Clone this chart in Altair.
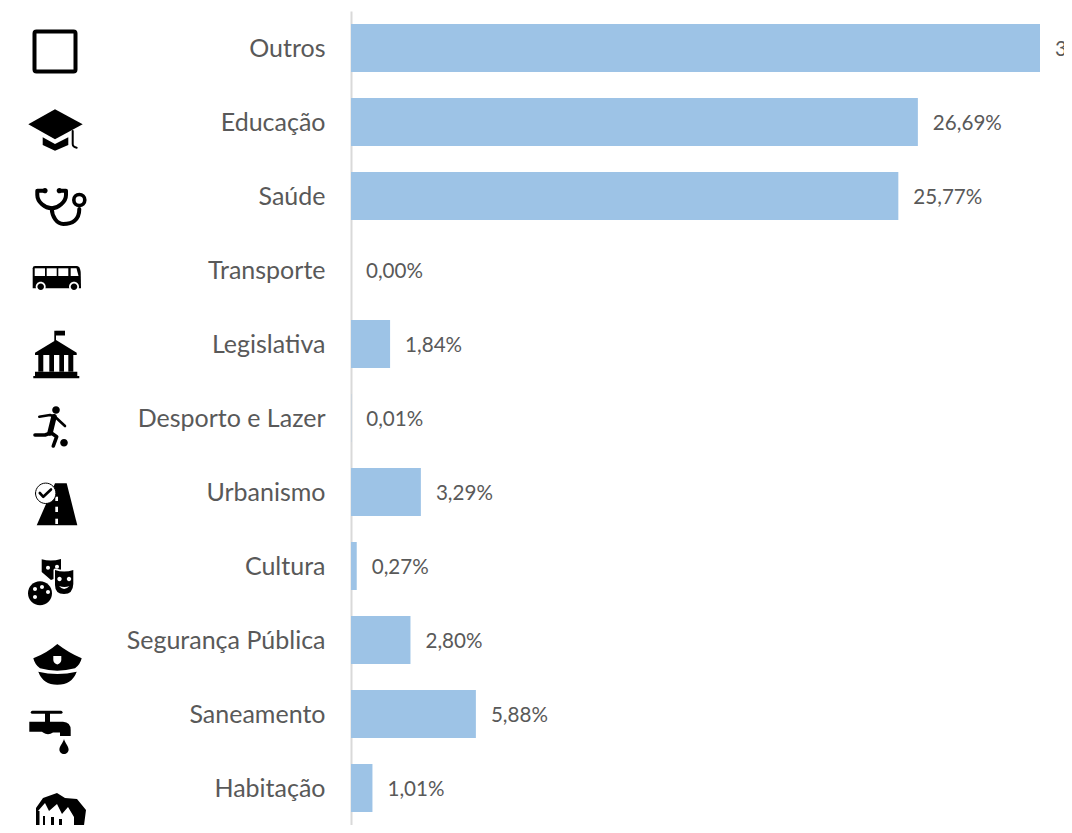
import altair as alt
import pandas as pd

categories = ["Outros", "Educação", "Saúde", "Transporte", "Legislativa", "Desporto e Lazer",
              "Urbanismo", "Cultura", "Segurança Pública", "Saneamento", "Habitação"]
values = [32.44, 26.69, 25.77, 0.00, 1.84, 0.01, 3.29, 0.27, 2.80, 5.88, 1.01]
labels = ["32,44%", "26,69%", "25,77%", "0,00%", "1,84%", "0,01%", "3,29%", "0,27%", "2,80%", "5,88%", "1,01%"]

BLACK, WHITE = "#000000", "#ffffff"
TEXT = "#595959"
FONT = "Lato"


def circle(cx, cy, r):
    return f"M{cx-r},{cy}A{r},{r} 0 1,0 {cx+r},{cy}A{r},{r} 0 1,0 {cx-r},{cy}Z"


def rect(x0, y0, x1, y1):
    return f"M{x0},{y0}H{x1}V{y1}H{x0}Z"


# Icon drawings: (category, x offset, y offset from row centre, parts)
# part = (path, colour, stroke width or 0 for filled)
icons = [
    ("Outros", 0, 3.5, [
        ("M-18.5,-20H18.5Q20.5,-20 20.5,-18V18Q20.5,20 18.5,20H-18.5Q-20.5,20 -20.5,18V-18Q-20.5,-20 -18.5,-20Z", BLACK, 4),
    ]),
    ("Educação", 0, 8, [
        ("M-26.7,-5.7L0,-20.7L27.7,-5.7L0,9.3Z", BLACK, 0),
        ("M-12.3,7.3L0,14L13.3,7.3V15L0,20.7L-12.3,15Z", BLACK, 0),
        ("M17.7,1V14Q17.7,17 21.7,17.7", BLACK, 2),
    ]),
    ("Saúde", 0, 11, [
        ("M-10,-16.3H-17.7V-12C-17.7,-5 -10,1.3 -3.3,1.3C3,1.3 11,-5 11,-12V-16.3H4.3", BLACK, 4),
        ("M-3.3,1.3C-3,10 2,17 8.3,17C17,17 24.3,13 24.3,2", BLACK, 4),
        (circle(24.3, -7, 5.5), BLACK, 3.6),
        (circle(-10, -16.3, 2.6), BLACK, 0),
        (circle(4.3, -16.3, 2.6), BLACK, 0),
    ]),
    ("Transporte", 0, 8, [
        ("M-20,-12H22Q25,-12 25.7,-6L26,10.3H-22.3V-9.7Q-22.3,-12 -20,-12Z", BLACK, 0),
        (rect(-20.3, -9.7, -10, -2), WHITE, 0),
        (rect(-8.3, -9.7, 1.7, -2), WHITE, 0),
        (rect(3.3, -9.7, 13.3, -2), WHITE, 0),
        ("M15.7,-9.7H21.5L23.5,-2H15.7Z", WHITE, 0),
        (circle(-14.3, 8.7, 5), WHITE, 0),
        (circle(19, 8.7, 5), WHITE, 0),
        (circle(-14.3, 8.7, 3.3), BLACK, 0),
        (circle(19, 8.7, 3.3), BLACK, 0),
    ]),
    ("Legislativa", 0, 11, [
        ("M-20,0V-2.3L1,-15L21.7,-2.3V0Z", BLACK, 0),
        (rect(-16.7, 0, -11.7, 16.7), BLACK, 0),
        (rect(-5.7, 0, -1, 16.7), BLACK, 0),
        (rect(4.3, 0, 9, 16.7), BLACK, 0),
        (rect(13.3, 0, 18.3, 16.7), BLACK, 0),
        (rect(-20, 16.7, 22.3, 21), BLACK, 0),
        (rect(-21.7, 21, 24.3, 23.3), BLACK, 0),
        (rect(-0.7, -24.3, 1, -14), BLACK, 0),
        (rect(1, -24.3, 10, -19.5), BLACK, 0),
    ]),
    ("Desporto e Lazer", 0, 9, [
        (circle(1, -17, 3.8), BLACK, 0),
        (circle(9, 15.7, 3.8), BLACK, 0),
        ("M-15.7,-10.3L-5,-12L0,-10.3L10,-1", BLACK, 2.6),
        ("M-1,-10.3L-5,6", BLACK, 5.5),
        ("M-5,6.3L-10,8H-20", BLACK, 3.6),
        ("M-5,5L1.7,9.7L-1.7,19", BLACK, 3.6),
    ]),
    ("Urbanismo", 0, 12, [
        ("M-18.3,21.3L0,-20.7H11.7L22.3,21.3Z", BLACK, 0),
        (rect(0.3, 2.7, 3, 8), WHITE, 0),
        (rect(0.3, 14.7, 3, 20), WHITE, 0),
        (rect(0.3, -7.3, 3, -3), WHITE, 0),
        (circle(-9.3, -10.7, 10.2), WHITE, 0),
        (circle(-9.3, -10.7, 10.2), BLACK, 1),
        ("M-15.2,-11L-11.7,-7.2L-4,-14.5", BLACK, 2.6),
    ]),
    ("Cultura", 0, 14, [
        ("M-13.3,-20.7Q-4,-18 6,-21V-4L-4,0L-13.3,-8Z", BLACK, 0),
        (circle(-7, -12.3, 2), WHITE, 0),
        (circle(2, -13.3, 2), WHITE, 0),
        ("M0,-10Q9,-7 18.3,-10V4Q18,14 9,14Q0,14 0,5Z", WHITE, 3),
        ("M0,-10Q9,-7 18.3,-10V4Q18,14 9,14Q0,14 0,5Z", BLACK, 0),
        (circle(4.5, -1, 2.2), WHITE, 0),
        (circle(14, -1, 2.2), WHITE, 0),
        ("M4,6Q9.5,8 14.5,6Q9,12 4,6Z", WHITE, 0),
        (circle(-15, 13.3, 13.5), WHITE, 0),
        (circle(-15, 13.3, 12), BLACK, 0),
        (circle(-20, 9, 2), WHITE, 0),
        (circle(-13, 7, 2), WHITE, 0),
        (circle(-7, 12, 2), WHITE, 0),
        (circle(-20, 17, 2), WHITE, 0),
    ]),
    ("Segurança Pública", 0, 23, [
        ("M-21.7,-4.7Q-8,-10 2.3,-19Q14,-10 26.7,-4.7Q25,2 20,5.3Q2,10 -15,5.3Q-20,2 -21.7,-4.7Z", BLACK, 0),
        ("M-1.7,-7H6.3V-3Q6,0 2.3,1.5Q-1.5,0 -1.7,-3Z", WHITE, 0),
        ("M-16.7,8.7Q2.3,13.5 21.7,8.7Q17,21.7 2.3,21.7Q-12,21.7 -16.7,8.7Z", BLACK, 0),
    ]),
    ("Saneamento", 0, 15, [
        ("M-22.7,-16.7H6", BLACK, 3),
        (rect(-10, -16.7, -5, -7), BLACK, 0),
        ("M-25.7,-7.3H8Q15.7,-7 15.7,1V7H5V3.5H-2Q-7,7 -12,3.5L-13,2.7H-25.7Z", BLACK, 0),
        ("M9,10C10,14 13.6,17 13.6,20.5A4.6,4.6 0 1,1 4.4,20.5C4.4,17 8,14 9,10Z", BLACK, 0),
    ]),
    ("Habitação", 0, 24, [
        ("M-19,-4L-12,-14L2,-19L10,-14L22,-13L31,-2L28,21H15L-19,15Z", BLACK, 0),
        ("M-17,-1L-10,-9L-6,-1L2,-8L7,2L13,-5L19,5V23H-17Z", WHITE, 0),
        (rect(-12, 4, -10, 15), BLACK, 0),
        (rect(-4, 5, -1, 17), BLACK, 0),
        (rect(4, 7, 7, 19), BLACK, 0),
        (rect(-17.5, -1, -15.5, 18), BLACK, 0),
        ("M19,5L29,0V21H19Z", BLACK, 0),
    ]),
]

df = pd.DataFrame({"categoria": categories, "valor": values, "rotulo": labels})

y = alt.Y(
    "categoria:N",
    sort=categories,
    title=None,
    scale=alt.Scale(domain=categories, paddingInner=0, paddingOuter=0),
    axis=alt.Axis(
        ticks=False, grid=False, domainColor="#d9d9d9", domainWidth=2,
        labelFont=FONT, labelFontSize=25, labelColor=TEXT, labelPadding=26, labelLimit=400,
        labelOffset=1,
    ),
)
x = alt.X("valor:Q", title=None, axis=None, scale=alt.Scale(domain=[0, 33.57], nice=False, zero=True))

bars = alt.Chart(df).mark_bar(size=48, color="#9DC3E6").encode(x=x, y=y)
texts = alt.Chart(df).mark_text(
    align="left", baseline="middle", dx=15, dy=2, font=FONT, fontSize=20.6, color=TEXT
).encode(x=x, y=y, text="rotulo:N")

icon_layers = []
for cat, dx, dy, parts in icons:
    row = pd.DataFrame({"categoria": [cat]})
    for path, colour, sw in parts:
        kw = dict(shape=path, size=4, opacity=1, xOffset=dx, yOffset=dy)
        if sw:
            mark = alt.Chart(row).mark_point(filled=False, stroke=colour, strokeWidth=sw,
                                             strokeCap="round", strokeJoin="round", **kw)
        else:
            mark = alt.Chart(row).mark_point(filled=True, fill=colour, strokeWidth=0, **kw)
        icon_layers.append(mark.encode(x=alt.value(-296), y=y))

chart = alt.layer(bars, texts, *icon_layers).properties(
    width=713, height=814,
    autosize=alt.AutoSizeParams(type="none"),
    padding={"left": 343, "top": 3, "right": 0, "bottom": 0},
).configure_view(stroke=None)

chart.save("out.html", embed_options={"renderer": "svg", "actions": False})
